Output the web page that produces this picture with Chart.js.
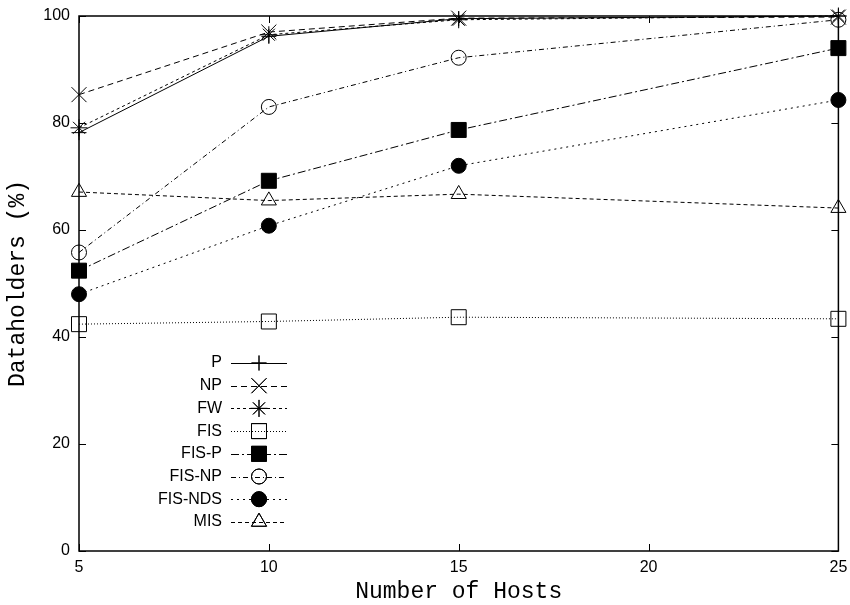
<!DOCTYPE html>
<html>
<head>
<meta charset="utf-8">
<script src="https://cdn.jsdelivr.net/npm/chart.js@4"></script>
<style>
  html, body { margin: 0; padding: 0; background: #fff; }
  #wrap { width: 850px; height: 605px; position: relative; }
</style>
</head>
<body>
<div id="wrap"><canvas id="hostsChart"></canvas></div>
<script>
// number of hosts (x) and datahold percentages per scheme
const hosts = [5, 10, 15, 25];
const seriesNames = ["P", "NP", "FW", "FIS", "FIS-P", "FIS-NP", "FIS-NDS", "MIS"];
const pValues = [78.2, 96.2, 99.5, 100];
const npValues = [85.3, 97.0, 99.6, 99.8];
const fwValues = [79.1, 96.5, 99.3, 100];
const fisValues = [42.4, 42.9, 43.7, 43.4];
const fisPValues = [52.4, 69.2, 78.7, 94.0];
const fisNpValues = [55.8, 83.0, 92.2, 99.3];
const fisNdsValues = [48.0, 60.8, 72.0, 84.3];
const misValues = [67.1, 65.5, 66.7, 64.1];
const xTicks = [5, 10, 15, 20, 25];
const yTicks = [0, 20, 40, 60, 80, 100];

const allValues = [pValues, npValues, fwValues, fisValues, fisPValues, fisNpValues, fisNdsValues, misValues];

// line / marker look for each series (gnuplot-ish)
const styles = [
  { dash: [], point: "cross", r: 7.5, fill: "transparent" },
  { dash: [6, 4], point: "crossRot", r: 10.6, fill: "transparent" },
  { dash: [3, 3], point: "star", r: 8.5, fill: "transparent" },
  { dash: [1, 2], point: "rect", r: 10.6, fill: "transparent" },
  { dash: [8, 3, 2, 3], point: "rect", r: 10.6, fill: "#000" },
  { dash: [5, 3, 1, 3], point: "circle", r: 7.5, fill: "transparent" },
  { dash: [2, 4], point: "circle", r: 7.5, fill: "#000" },
  { dash: [4, 3], point: "triangle", r: 8.7, fill: "transparent" }
];

const datasets = seriesNames.map((name, i) => ({
  label: name,
  data: hosts.map((h, j) => ({ x: h, y: allValues[i][j] })),
  borderColor: "#000",
  borderWidth: 1,
  borderDash: styles[i].dash,
  pointStyle: styles[i].point,
  pointRadius: styles[i].r,
  pointHoverRadius: styles[i].r,
  pointBorderColor: "#000",
  pointBackgroundColor: styles[i].fill,
  pointBorderWidth: 1,
  tension: 0,
  clip: false
}));

// frame + inward tick marks on all four sides
const framePlugin = {
  id: "frame",
  afterDatasetsDraw(chart) {
    const { ctx, chartArea: a, scales } = chart;
    ctx.save();
    ctx.strokeStyle = "#000";
    ctx.lineWidth = 1;
    ctx.beginPath();
    yTicks.forEach((v) => {
      const y = Math.round(scales.y.getPixelForValue(v)) + 0.5;
      ctx.moveTo(a.left, y); ctx.lineTo(a.left + 7, y);
      ctx.moveTo(a.right, y); ctx.lineTo(a.right - 7, y);
    });
    xTicks.forEach((v) => {
      const x = Math.round(scales.x.getPixelForValue(v)) + 0.5;
      ctx.moveTo(x, a.bottom); ctx.lineTo(x, a.bottom - 7);
      ctx.moveTo(x, a.top); ctx.lineTo(x, a.top + 7);
    });
    ctx.stroke();
    ctx.lineWidth = 1.5;
    ctx.strokeRect(a.left, a.top, a.right - a.left, a.bottom - a.top);
    ctx.restore();
  }
};

// key drawn inside the plot, lower left
const keyPlugin = {
  id: "key",
  afterDatasetsDraw(chart) {
    const { ctx } = chart;
    ctx.save();
    ctx.font = "16px 'Liberation Sans', Arial, sans-serif";
    ctx.textAlign = "right";
    ctx.textBaseline = "middle";
    ctx.fillStyle = "#000";
    chart.data.datasets.forEach((ds, i) => {
      const y = 363 + i * 22.7;
      ctx.fillText(ds.label, 222, y);
      ctx.strokeStyle = "#000";
      ctx.lineWidth = 1;
      ctx.setLineDash(ds.borderDash);
      ctx.beginPath();
      ctx.moveTo(231, Math.round(y) + 0.5);
      ctx.lineTo(287, Math.round(y) + 0.5);
      ctx.stroke();
      ctx.setLineDash([]);
      ctx.fillStyle = ds.pointBackgroundColor;
      Chart.helpers.drawPoint(ctx, { pointStyle: ds.pointStyle, radius: ds.pointRadius, rotation: 0, borderWidth: 1 }, 259, y);
      if (ds.pointBackgroundColor !== "transparent") ctx.fill();
      ctx.stroke();
      ctx.fillStyle = "#000";
    });
    ctx.restore();
  }
};

Chart.defaults.color = "#000";

new Chart(document.getElementById("hostsChart"), {
  type: "line",
  data: { datasets: datasets },
  options: {
    responsive: true,
    maintainAspectRatio: false,
    animation: false,
    layout: { padding: { top: 16, right: 11, left: 0, bottom: 0 } },
    plugins: {
      legend: { display: false },
      tooltip: { enabled: false }
    },
    scales: {
      x: {
        type: "linear",
        min: 5,
        max: 25,
        afterFit: (s) => { s.height = 54; s.paddingLeft = 0; s.paddingRight = 0; },
        afterBuildTicks: (s) => { s.ticks = xTicks.map((v) => ({ value: v })); },
        grid: { display: false, drawTicks: false },
        border: { display: false },
        ticks: {
          padding: 7,
          font: { family: "'Liberation Sans', Arial, sans-serif", size: 16 }
        },
        title: {
          display: true,
          text: "Number of Hosts",
          padding: { top: 0, bottom: 2 },
          font: { family: "'Liberation Mono', 'Courier New', monospace", size: 23, lineHeight: 1 }
        }
      },
      y: {
        min: 0,
        max: 100,
        afterFit: (s) => { s.width = 79; s.paddingTop = 0; s.paddingBottom = 0; },
        afterBuildTicks: (s) => { s.ticks = yTicks.map((v) => ({ value: v })); },
        grid: { display: false, drawTicks: false },
        border: { display: false },
        ticks: {
          padding: 9,
          font: { family: "'Liberation Sans', Arial, sans-serif", size: 16 }
        },
        title: {
          display: true,
          text: "Dataholders (%)",
          padding: { top: 6, bottom: 0 },
          font: { family: "'Liberation Mono', 'Courier New', monospace", size: 23, lineHeight: 1 }
        }
      }
    }
  },
  plugins: [framePlugin, keyPlugin]
});
</script>
</body>
</html>
